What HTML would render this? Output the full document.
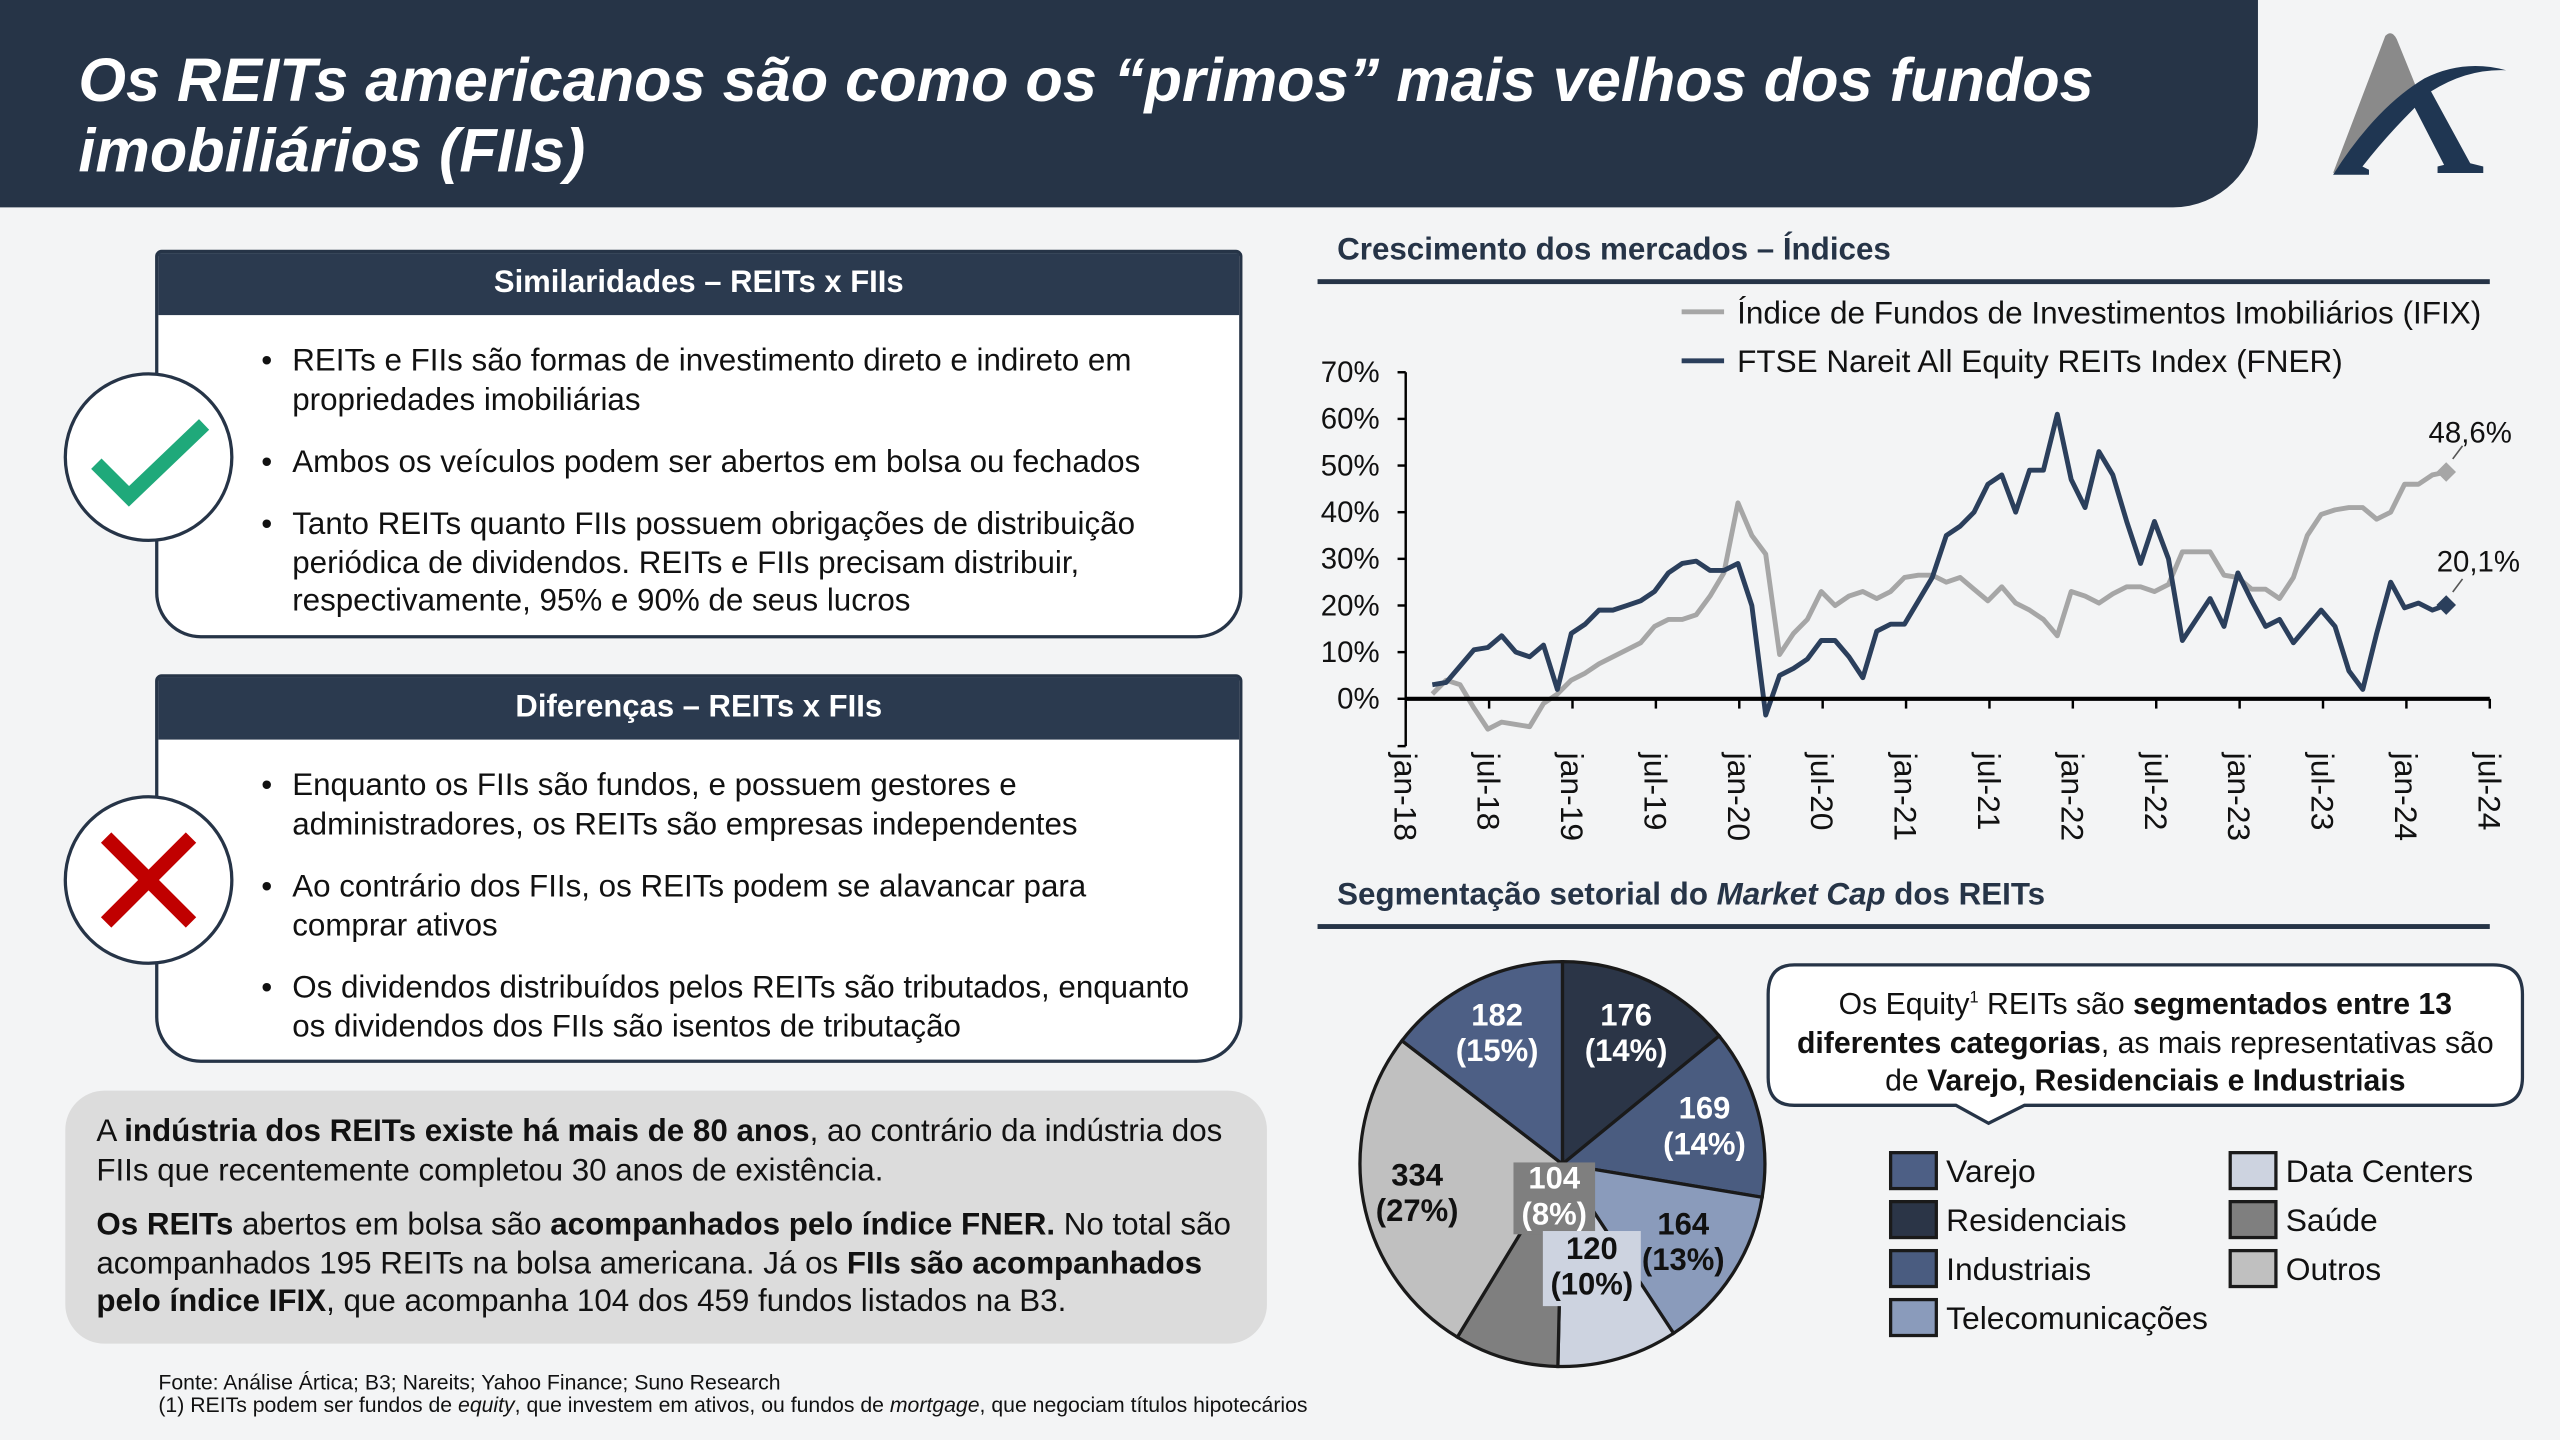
<!DOCTYPE html>
<html><head><meta charset="utf-8">
<style>
html,body{margin:0;padding:0;background:#f3f4f5;}
body{width:2560px;height:1440px;overflow:hidden;}
#s{position:absolute;left:0;top:0;width:1568px;height:882px;transform:scale(1.632653);transform-origin:0 0;font-family:"Liberation Sans",Arial,sans-serif;color:#111;}
.a{position:absolute;white-space:nowrap;}
.hdr{position:absolute;left:0;top:0;width:1383px;height:127px;background:#263447;border-bottom-right-radius:52px;}
.title{position:absolute;left:48px;top:28px;color:#fff;font-weight:bold;font-style:italic;font-size:37.5px;line-height:43px;}
.box{position:absolute;left:95px;width:666px;background:#fff;border:2px solid #263447;border-radius:4px 4px 28px 28px;box-sizing:border-box;}
.bh{background:#2b3a4f;color:#fff;font-weight:bold;font-size:19px;text-align:center;height:38px;line-height:38px;}
.circ{position:absolute;width:104px;height:104px;border-radius:50%;background:#fff;border:2px solid #263447;box-sizing:border-box;}
.bl{position:absolute;left:160px;font-size:19.2px;line-height:23.5px;}
.bl span.d{position:absolute;left:0;}
.bl div{margin-left:19px;}
.gray{position:absolute;left:40px;top:668px;width:736px;height:155px;background:#dcdcdc;border-radius:24px;}
.gt{position:absolute;left:59px;font-size:19.2px;line-height:23.5px;}
.sec{position:absolute;left:819px;font-weight:bold;font-size:19.2px;color:#263447;}
.rule{position:absolute;left:807px;width:718px;height:3px;background:#263447;}
</style></head><body>
<div id="s">
<div class="hdr"></div>
<div class="title">Os REITs americanos são como os “primos” mais velhos dos fundos<br>imobiliários (FIIs)</div>
<svg class="a" style="left:1425px;top:18px" width="115" height="92" viewBox="0 0 115 92">
<path d="M4 88 L36 4 Q40 0 43 6 L56 38 Q70 26 90 24 Q70 30 48 46 Q26 62 10 86Z" fill="#8a8a8a"/>
<path d="M4 89 Q30 48 60 30 Q84 18 110 25 Q86 24 64 38 L88 82 L96 84 L96 88 L68 88 L68 84 L72 83 L54 48 Q36 66 22 84 L26 86 L26 89Z" fill="#1f3652"/>
</svg>

<div class="box" style="top:153px;height:238px"><div class="bh">Similaridades – REITs x FIIs</div></div>
<div class="circ" style="left:39px;top:228px"><svg width="100" height="100" viewBox="0 0 100 100"><path d="M18 54 L38 74 L84 30" fill="none" stroke="#1fa97a" stroke-width="9"/></svg></div>
<div class="bl" style="top:210px"><span class="d">•</span><div>REITs e FIIs são formas de investimento direto e indireto em<br>propriedades imobiliárias</div></div>
<div class="bl" style="top:272px"><span class="d">•</span><div>Ambos os veículos podem ser abertos em bolsa ou fechados</div></div>
<div class="bl" style="top:310px"><span class="d">•</span><div>Tanto REITs quanto FIIs possuem obrigações de distribuição<br>periódica de dividendos. REITs e FIIs precisam distribuir,<br>respectivamente, 95% e 90% de seus lucros</div></div>

<div class="box" style="top:413px;height:238px"><div class="bh">Diferenças – REITs x FIIs</div></div>
<div class="circ" style="left:39px;top:487px"><svg width="100" height="100" viewBox="0 0 100 100"><path d="M24 24 L76 76 M76 24 L24 76" fill="none" stroke="#c00000" stroke-width="9"/></svg></div>
<div class="bl" style="top:470px"><span class="d">•</span><div>Enquanto os FIIs são fundos, e possuem gestores e<br>administradores, os REITs são empresas independentes</div></div>
<div class="bl" style="top:532px"><span class="d">•</span><div>Ao contrário dos FIIs, os REITs podem se alavancar para<br>comprar ativos</div></div>
<div class="bl" style="top:594px"><span class="d">•</span><div>Os dividendos distribuídos pelos REITs são tributados, enquanto<br>os dividendos dos FIIs são isentos de tributação</div></div>

<div class="gray"></div>
<div class="gt" style="top:682px">A <b>indústria dos REITs existe há mais de 80 anos</b>, ao contrário da indústria dos<br>FIIs que recentemente completou 30 anos de existência.</div>
<div class="gt" style="top:739px"><b>Os REITs</b> abertos em bolsa são <b>acompanhados pelo índice FNER.</b> No total são<br>acompanhados 195 REITs na bolsa americana. Já os <b>FIIs são acompanhados<br>pelo índice IFIX</b>, que acompanha 104 dos 459 fundos listados na B3.</div>
<div class="a" style="left:97px;top:840px;font-size:13px;line-height:14px">Fonte: Análise Ártica; B3; Nareits; Yahoo Finance; Suno Research<br>(1) REITs podem ser fundos de <i>equity</i>, que investem em ativos, ou fundos de <i>mortgage</i>, que negociam títulos hipotecários</div>

<div class="sec" style="top:143px">Crescimento dos mercados – Índices</div>
<div class="rule" style="top:171px"></div>
<div class="sec" style="top:538px">Segmentação setorial do <i>Market Cap</i> dos REITs</div>
<div class="rule" style="top:566px"></div>

<svg id="ch" class="a" style="left:0;top:0" width="1568" height="882"></svg>

<svg class="a" style="left:1080px;top:589px" width="470" height="102">
<path d="M19 2 H447 Q465 2 465 20 V71 Q465 88 447 88 H160 L138 99 L118 88 H19 Q3 88 3 71 V20 Q3 2 19 2Z" fill="#fff" stroke="#263447" stroke-width="2"/>
</svg>
<div class="a" style="left:1083px;top:600px;width:462px;text-align:center;font-size:18.5px;line-height:23.5px">Os Equity<sup style="font-size:10px">1</sup> REITs são <b>segmentados entre 13</b><br><b>diferentes categorias</b>, as mais representativas são<br>de <b>Varejo, Residenciais e Industriais</b></div>
</div>
<script>
var ns="http://www.w3.org/2000/svg",svg=document.getElementById('ch');
function el(t,a,txt){var e=document.createElementNS(ns,t);for(var k in a)e.setAttribute(k,a[k]);if(txt!=null)e.textContent=txt;svg.appendChild(e);return e;}
var F="Liberation Sans, Arial, sans-serif";
var x0=861,x1=1525,y0=428,k=2.857;
el('line',{x1:x0,y1:228,x2:x0,y2:457,stroke:'#000','stroke-width':1.5});
for(var v=0;v<=70;v+=10){var y=y0-v*k;el('line',{x1:x0-5,y1:y,x2:x0,y2:y,stroke:'#000','stroke-width':1.5});
el('text',{x:x0-16,y:y+6,'text-anchor':'end','font-size':18,'font-family':F,fill:'#111'},v+'%');}
el('line',{x1:x0-5,y1:457,x2:x0,y2:457,stroke:'#000','stroke-width':1.5});
var labs=['jan-18','jul-18','jan-19','jul-19','jan-20','jul-20','jan-21','jul-21','jan-22','jul-22','jan-23','jul-23','jan-24','jul-24'];
for(var i=0;i<14;i++){var x=x0+i*(x1-x0)/13;el('line',{x1:x,y1:y0,x2:x,y2:y0+6,stroke:'#000','stroke-width':1.5});
el('text',{x:0,y:0,'font-size':19.5,'font-family':F,fill:'#111',transform:'translate('+(x-7)+',461) rotate(90)'},labs[i]);}
var fn=[3,3.5,7,10.5,11,13.5,10,9,11.5,2,14,16,19,19,20,21,23,27,29,29.5,27.5,27.5,29,20,-3.5,5,6.5,8.5,12.5,12.5,9,4.5,14.5,16,16,21,26,35,37,40,46,48,40,49,49,61,47,41,53,48,38,29,38,30,12.5,17,21.5,15.5,27,21,15.5,17,12,15.5,19,15.5,6,2,14,25,19.5,20.5,19,20.1];
var fx=[1,4,3,-2,-6.5,-5,-5.5,-6,-1,1,4,5.5,7.5,9,10.5,12,15.5,17,17,18,22,27,42,35,31,9.5,14,17,23,20,22,23,21.5,23,26,26.5,26.5,25,26,23.5,21,24,20.5,19,17,13.5,23,22,20.5,22.5,24,24,23,24.5,31.5,31.5,31.5,26.5,26,23.5,23.5,21.5,26,35,39.5,40.5,41,41,38.5,40,46,46,48,48.6];
function pts(d){var n=d.length,s=[];for(var i=0;i<n;i++){var z=168+i*(1424-168)/(n-1);s.push((x0+(z-135)*0.4944).toFixed(1)+','+(y0-d[i]*k).toFixed(1));}return s;}
var pf=pts(fx),pb=pts(fn);
el('polyline',{points:pf.join(' '),fill:'none',stroke:'#a6a6a6','stroke-width':3,'stroke-linejoin':'round'});
el('polyline',{points:pb.join(' '),fill:'none',stroke:'#2b3f5c','stroke-width':3,'stroke-linejoin':'round'});
el('line',{x1:x0,y1:y0,x2:x1,y2:y0,stroke:'#000','stroke-width':2.5});
function dia(p,c){var a=p.split(',');var x=+a[0],y=+a[1];el('path',{d:'M'+x+' '+(y-6)+'L'+(x+6)+' '+y+'L'+x+' '+(y+6)+'L'+(x-6)+' '+y+'Z',fill:c});return [x,y];}
var e1=dia(pf[pf.length-1],'#a6a6a6'),e2=dia(pb[pb.length-1],'#2b3f5c');
el('line',{x1:e1[0]+4,y1:e1[1]-8,x2:e1[0]+10,y2:e1[1]-16,stroke:'#555','stroke-width':1});
el('line',{x1:e2[0]+4,y1:e2[1]-8,x2:e2[0]+10,y2:e2[1]-16,stroke:'#555','stroke-width':1});
el('text',{x:1513,y:271,'text-anchor':'middle','font-size':18,'font-family':F,fill:'#111'},'48,6%');
el('text',{x:1518,y:350,'text-anchor':'middle','font-size':18,'font-family':F,fill:'#111'},'20,1%');
el('line',{x1:1030,y1:191,x2:1056,y2:191,stroke:'#a6a6a6','stroke-width':3});
el('line',{x1:1030,y1:221,x2:1056,y2:221,stroke:'#2b3f5c','stroke-width':3});
el('text',{x:1064,y:198,'font-size':19.3,'font-family':F,fill:'#111'},'Índice de Fundos de Investimentos Imobiliários (IFIX)');
el('text',{x:1064,y:228,'font-size':19.3,'font-family':F,fill:'#111'},'FTSE Nareit All Equity REITs Index (FNER)');
var cx=957,cy=713,r=124;
var sl=[[176,'#2b3547'],[169,'#4a5c80'],[164,'#8a9bbb'],[120,'#cdd3e0'],[104,'#7f7f7f'],[334,'#c0c0c0'],[182,'#4d5f85']];
var tot=1249,acc=0;
sl.forEach(function(s){var a0=acc/tot*2*Math.PI;acc+=s[0];var a1=acc/tot*2*Math.PI;
var xa=cx+r*Math.sin(a0),ya=cy-r*Math.cos(a0),xb=cx+r*Math.sin(a1),yb=cy-r*Math.cos(a1);
el('path',{d:'M'+cx+' '+cy+'L'+xa+' '+ya+'A'+r+' '+r+' 0 '+((a1-a0)>Math.PI?1:0)+' 1 '+xb+' '+yb+'Z',fill:s[1],stroke:'#1a1a1a','stroke-width':2});});
el('rect',{x:927,y:712,width:50,height:44,fill:'#7f7f7f'});
el('rect',{x:945,y:754,width:60,height:46,fill:'#cdd3e0'});
var L=[[996,628,'176','(14%)','#fff'],[1044,685,'169','(14%)','#fff'],[1031,756,'164','(13%)','#111'],[975,771,'120','(10%)','#111'],[952,728,'104','(8%)','#fff'],[868,726,'334','(27%)','#111'],[917,628,'182','(15%)','#fff']];
L.forEach(function(l){el('text',{x:l[0],y:l[1],'text-anchor':'middle','font-size':19,'font-weight':'bold','font-family':F,fill:l[4]},l[2]);
el('text',{x:l[0],y:l[1]+22,'text-anchor':'middle','font-size':19,'font-weight':'bold','font-family':F,fill:l[4]},l[3]);});
var lg=[[1158,706,'#4d5f85','Varejo'],[1158,736,'#2b3547','Residenciais'],[1158,766,'#4a5c80','Industriais'],[1158,796,'#8a9bbb','Telecomunicações'],[1366,706,'#cdd3e0','Data Centers'],[1366,736,'#7f7f7f','Saúde'],[1366,766,'#c0c0c0','Outros']];
lg.forEach(function(g){el('rect',{x:g[0],y:g[1],width:28,height:22,fill:g[2],stroke:'#1a1a1a','stroke-width':2});
el('text',{x:g[0]+34,y:g[1]+18,'font-size':19.5,'font-family':F,fill:'#111'},g[3]);});
</script>
</body></html>
